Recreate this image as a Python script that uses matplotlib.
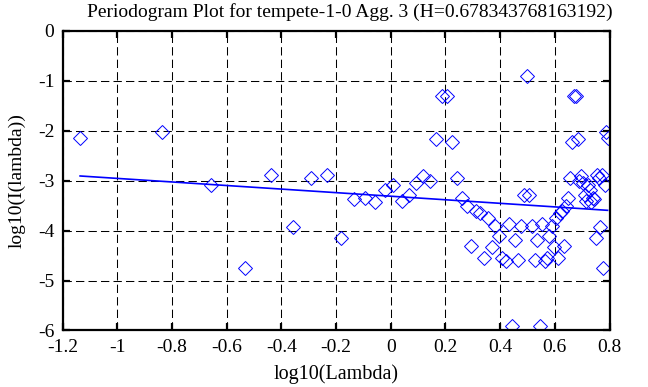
import matplotlib
matplotlib.use('Agg')
import matplotlib.pyplot as plt

plt.rcParams['font.family'] = ['Liberation Serif', 'DejaVu Serif']
plt.rcParams['axes.unicode_minus'] = False

H = 0.678343768163192
slope = 1 - 2 * H
intercept = -3.31

# log10(Lambda) of each periodogram point
log_lambda = [
    -1.136, -0.835, -0.659, -0.534, -0.437, -0.358, -0.291, -0.233, -0.182, -0.136,
    -0.095, -0.057, -0.022, 0.010, 0.040, 0.068, 0.094, 0.119, 0.142, 0.165,
    0.186, 0.206, 0.225, 0.244, 0.262, 0.279, 0.295, 0.311, 0.326, 0.341,
    0.355, 0.369, 0.382, 0.395, 0.408, 0.420, 0.432, 0.443, 0.455, 0.466,
    0.476, 0.487, 0.497, 0.507, 0.517, 0.527, 0.536, 0.545, 0.554, 0.563,
    0.571, 0.580, 0.588, 0.596, 0.604, 0.612, 0.620, 0.627, 0.635, 0.642,
    0.649, 0.656, 0.663, 0.670, 0.677, 0.683, 0.690, 0.696, 0.703, 0.709,
    0.715, 0.721, 0.727, 0.733, 0.739, 0.745, 0.750, 0.756, 0.761, 0.767,
    0.772, 0.778, 0.783, 0.788, 0.793,
]

# log10(I(lambda))
log_I = [
    -2.15, -2.02, -3.08, -4.75, -2.89, -3.93, -2.94, -2.89, -4.14, -3.36,
    -3.34, -3.43, -3.19, -3.08, -3.40, -3.29, -3.05, -2.91, -3.00, -2.16,
    -1.30, -1.31, -2.23, -2.95, -3.34, -3.51, -4.31, -3.61, -3.65, -4.55,
    -3.75, -4.33, -3.91, -4.11, -4.55, -4.60, -3.86, -5.91, -4.18, -4.58,
    -3.90, -3.28, -0.90, -3.28, -3.90, -4.58, -4.18, -5.91, -3.86, -4.60,
    -4.55, -4.11, -3.91, -4.33, -3.75, -4.55, -3.65, -3.61, -4.31, -3.51,
    -3.34, -2.95, -2.23, -1.31, -1.30, -2.16, -3.00, -2.91, -3.05, -3.29,
    -3.40, -3.08, -3.19, -3.43, -3.34, -3.36, -4.14, -2.89, -2.94, -3.93,
    -2.89, -4.75, -3.08, -2.02, -2.15,
]

xticks = [-1.2, -1, -0.8, -0.6, -0.4, -0.2, 0, 0.2, 0.4, 0.6, 0.8]
xtick_labels = ['-1.2', '-1', '-0.8', '-0.6', '-0.4', '-0.2', '0', '0.2', '0.4', '0.6', '0.8']
yticks = [0, -1, -2, -3, -4, -5, -6]

fig = plt.figure(figsize=(6.48, 3.87), dpi=100)
ax = fig.add_axes([0.0966, 0.146, 0.844, 0.774])

ax.plot(log_lambda, log_I, linestyle='none', marker='D', markersize=7,
        markerfacecolor='none', markeredgecolor='#0000ff', markeredgewidth=0.7)

fit_x = [log_lambda[0], log_lambda[-1]]
fit_y = [intercept + slope * v for v in fit_x]
ax.plot(fit_x, fit_y, color='#0000ff', linewidth=1.2)

ax.set_xlim(-1.2, 0.8)
ax.set_ylim(-6, 0)
ax.set_xticks(xticks)
ax.set_xticklabels(xtick_labels)
ax.set_yticks(yticks)
ax.set_yticklabels([str(v) for v in yticks])

ax.grid(True, color='black', linestyle=(0, (8, 4)), linewidth=0.75)
for s in ax.spines.values():
    s.set_linewidth(1.6)
ax.tick_params(direction='in', length=5, width=1.6, top=True, right=True,
               labelsize=14, pad=6)

ax.set_xlabel('log10(Lambda)', fontsize=14.5, labelpad=6)
ax.set_ylabel('log10(I(lambda))', fontsize=14, labelpad=9)
ax.set_title('Periodogram Plot for tempete-1-0 Agg. 3 (H=0.678343768163192)',
             fontsize=14, pad=10, x=0.525)

fig.savefig('out.png', dpi=100)
